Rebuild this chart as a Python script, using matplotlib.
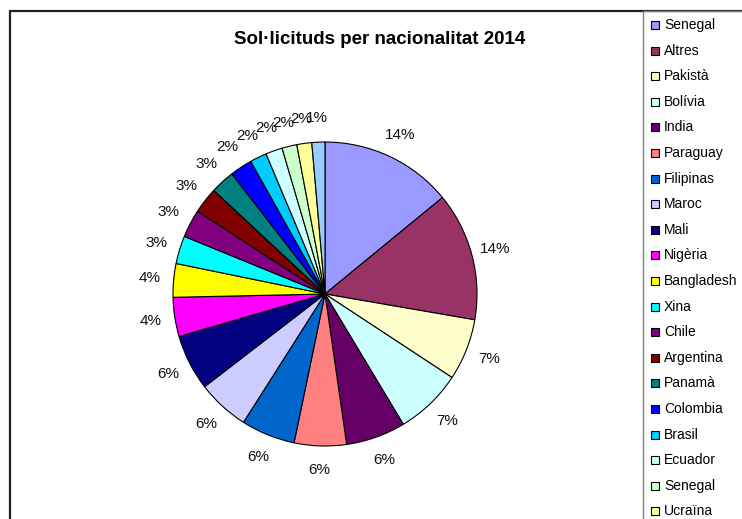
import matplotlib
matplotlib.use('Agg')
import matplotlib.pyplot as plt
from matplotlib.patches import Rectangle

plt.rcParams['font.family'] = ['Liberation Sans', 'DejaVu Sans']

# counts (clockwise from 12 o'clock)
countries = ['Senegal', 'Altres', 'Pakistà', 'Bolívia', 'India', 'Paraguay',
             'Filipinas', 'Maroc', 'Mali', 'Nigèria', 'Bangladesh', 'Xina',
             'Chile', 'Argentina', 'Panamà', 'Colombia', 'Brasil', 'Ecuador',
             'Senegal', 'Ucraïna', 'Rússia']
counts = [71, 69, 33, 36, 32, 28, 29, 28, 30, 21, 18, 15, 15, 14, 13, 12,
          9, 9, 8, 8, 7]
colors = ['#9999FF', '#993366', '#FFFFCC', '#CCFFFF', '#660066', '#FF8080',
          '#0066CC', '#CCCCFF', '#000080', '#FF00FF', '#FFFF00', '#00FFFF',
          '#800080', '#800000', '#008080', '#0000FF', '#00CCFF', '#CCFFFF',
          '#CCFFCC', '#FFFF99', '#99CCFF']

W, H = 742, 519
fig = plt.figure(figsize=(W / 100, H / 100), dpi=100)

# chart area border and legend box
fig.patches.append(Rectangle((10 / W, -0.05), 1.2, 1 - 11 / H + 0.05,
                             transform=fig.transFigure, fill=False,
                             edgecolor='#222222', linewidth=1.6))
fig.patches.append(Rectangle((643 / W, -0.05), 0.5, 1 - 11 / H + 0.05,
                             transform=fig.transFigure, fill=False,
                             edgecolor='#808080', linewidth=1.0))

cx, cy, r = 325, 294, 152
ax = fig.add_axes([(cx - r) / W, 1 - (cy + r) / H, 2 * r / W, 2 * r / H])
wedges, texts, autotexts = ax.pie(
    counts, colors=colors, startangle=90, counterclock=False,
    autopct=lambda p: '%d%%' % round(p), pctdistance=1.16,
    wedgeprops=dict(edgecolor='black', linewidth=0.8),
    textprops=dict(fontsize=11, color='#111111'))
ax.set_xlim(-1, 1)
ax.set_ylim(-1, 1)
ax.set_aspect('equal')

fig.text(380 / W, 1 - 40 / H, 'Sol·licituds per nacionalitat 2014',
         ha='center', va='center', fontsize=13.5, fontweight='bold')

# legend, cut off at the bottom like the original
for i, (name, c) in enumerate(zip(countries, colors)):
    y = 25 + i * 25.6
    fig.patches.append(Rectangle((651 / W, 1 - (y + 4) / H), 8 / W, 8 / H,
                                 transform=fig.transFigure, facecolor=c,
                                 edgecolor='black', linewidth=0.8))
    fig.text(664 / W, 1 - y / H, name, ha='left', va='center', fontsize=10)

fig.savefig('out.png', dpi=100)
